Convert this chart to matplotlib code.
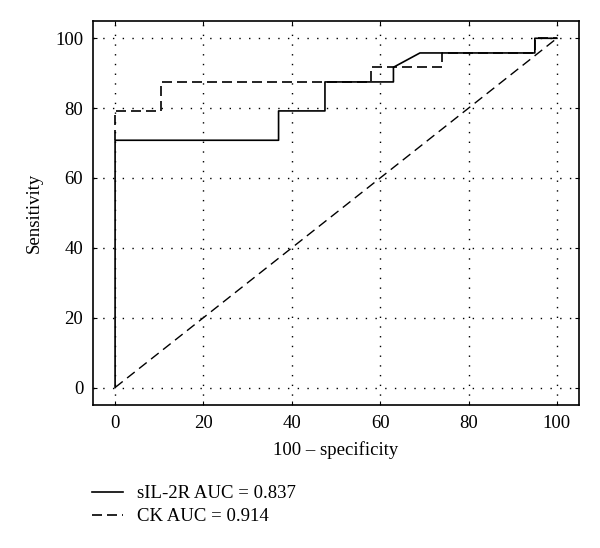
import matplotlib.pyplot as plt

plt.rcParams["font.family"] = ["Liberation Serif", "DejaVu Serif"]

# ROC curves (100 - specificity, sensitivity)
sil2r_x = [0, 0, 37, 37, 47.5, 47.5, 63, 63, 69, 95, 95, 100]
sil2r_y = [0, 70.8, 70.8, 79.2, 79.2, 87.5, 87.5, 91.7, 95.8, 95.8, 100, 100]

ck_x = [0, 0, 10.5, 10.5, 58, 58, 74, 74, 95, 95, 100]
ck_y = [70.8, 79.2, 79.2, 87.5, 87.5, 91.7, 91.7, 95.8, 95.8, 100, 100]

ref_x = [0, 100]
ref_y = [0, 100]

fig = plt.figure(figsize=(6, 5.48), dpi=100)
ax = fig.add_axes([0.155, 0.261, 0.81, 0.701])

ax.plot(sil2r_x, sil2r_y, color="black", lw=1.2, label="sIL-2R AUC = 0.837")
ax.plot(ck_x, ck_y, color="black", lw=1.2, ls=(0, (6, 3)), label="CK AUC = 0.914")
ax.plot(ref_x, ref_y, color="black", lw=1.0, ls=(0, (7, 4)))

ax.set_xlim(-5, 105)
ax.set_ylim(-5, 105)
ax.set_xticks(range(0, 101, 20))
ax.set_yticks(range(0, 101, 20))
ax.grid(True, color="black", ls=(0, (1, 6)), lw=1.0)
ax.tick_params(direction="in", top=True, right=True, labelsize=13.5, length=3, pad=7)
for s in ax.spines.values():
    s.set_linewidth(1.2)

ax.set_xlabel("100 – specificity", fontsize=13.5, labelpad=7)
ax.set_ylabel("Sensitivity", fontsize=13.5, labelpad=9)

ax.legend(loc="upper left", bbox_to_anchor=(0.153, 0.115), bbox_transform=fig.transFigure,
          frameon=False, fontsize=13.5, handlelength=1.65, handletextpad=0.75,
          labelspacing=0.32, borderpad=0, borderaxespad=0)

fig.savefig("out.png", dpi=100)
